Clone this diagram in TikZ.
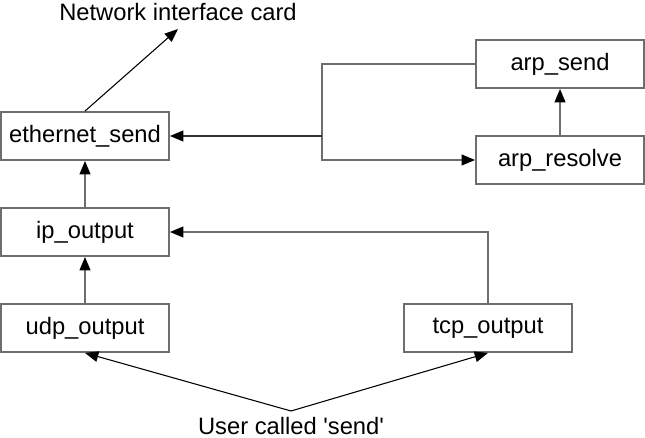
\documentclass[tikz,border=0pt]{standalone}
\usepackage{fontspec}
\setmainfont{Liberation Sans}
\usetikzlibrary{arrows.meta}
\definecolor{linegray}{RGB}{110,110,110}

\begin{document}
\begin{tikzpicture}[x=0.75pt,y=-0.75pt,
  every node/.style={font=\fontsize{17.8}{20}\selectfont},
  box/.style={draw=linegray, line width=1.4pt, minimum width=126pt, minimum height=36pt, inner sep=0pt},
  tip/.style={-{Triangle[length=10pt,width=8pt,black]}},
  conn/.style={draw=linegray, line width=1.4pt, tip},
  thin/.style={draw=black, line width=0.8pt, tip}]
\useasboundingbox (0,0) rectangle (645,438);

\node[box] (eth) at (85,136) {ethernet\_send};
\node[box] (ip) at (85,232) {ip\_output};
\node[box] (udp) at (85,328) {udp\_output};
\node[box] (tcp) at (488,328) {tcp\_output};
\node[box] (arpsend) at (560,64) {arp\_send};
\node[box] (arpres) at (560,160) {arp\_resolve};
\node (nic) at (178,12) {Network interface card};
\node (user) at (291,426) {User called \textquotesingle send\textquotesingle};
\coordinate (nictip) at (178,29);
\coordinate (fork) at (291,411);
\coordinate (j) at (322,136);

\draw[conn] (ip) -- (eth);
\draw[conn] (udp) -- (ip);
\draw[conn] (tcp.north) |- (ip.east);
\draw[conn] (arpres) -- (arpsend);
\draw[conn] (arpsend.west) -| (j) |- (arpres.west);
\draw[conn, draw={rgb,255:red,50;green,50;blue,50}] (j) -- (eth.east);
\draw[thin] (eth.north) -- (nictip);
\draw[thin] (fork) -- (udp.south);
\draw[thin] (fork) -- (tcp.south);
\end{tikzpicture}
\end{document}
